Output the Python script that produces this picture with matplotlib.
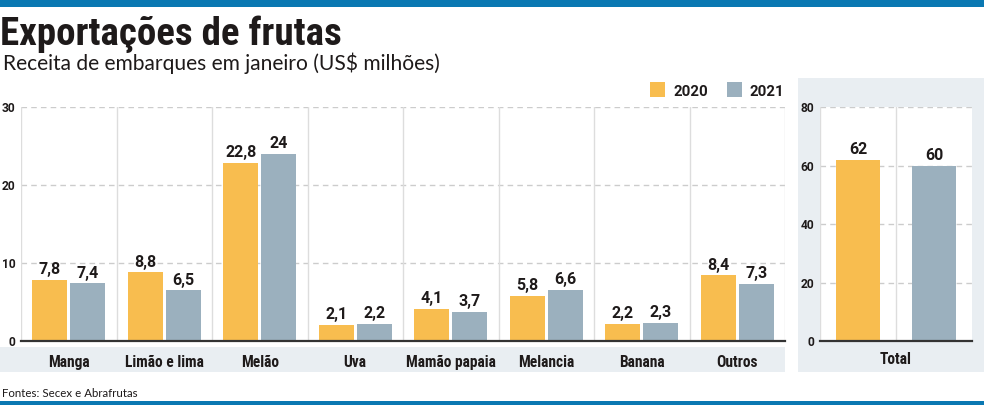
import matplotlib
matplotlib.use("Agg")
import matplotlib.pyplot as plt
from matplotlib import font_manager as fm
from matplotlib.patches import Rectangle
import numpy as np

categories = ["Manga", "Limão e lima", "Melão", "Uva", "Mamão papaia", "Melancia", "Banana", "Outros"]
v2020 = [7.8, 8.8, 22.8, 2.1, 4.1, 5.8, 2.2, 8.4]
v2021 = [7.4, 6.5, 24, 2.2, 3.7, 6.6, 2.3, 7.3]
total_label = "Total"
totals = [62, 60]
series = ["2020", "2021"]
left_ticks = [0, 10, 20, 30]
right_ticks = [0, 20, 40, 60, 80]

title = "Exportações de frutas"
subtitle = "Receita de embarques em janeiro (US$ milhões)"
source = "Fontes: Secex e Abrafrutas"

C20 = "#f8bd4f"
C21 = "#9bb0be"
PANEL = "#e9eef2"
BLUE = "#0a78b2"
DARK = "#1e1a1a"
GRID = "#cccccc"

names = {f.name for f in fm.fontManager.ttflist}
cond = None
for n in ["Roboto Condensed", "Liberation Sans Narrow", "Open Sans Condensed"]:
    if n in names:
        cond = n
        break
if cond is None:
    cond = "Roboto"
BOLD = [cond, "DejaVu Sans"]
NUM = ["Roboto", "DejaVu Sans"]
LIGHT = ["Lato", "DejaVu Sans"]

W, H = 984, 405
fig = plt.figure(figsize=(W / 100, H / 100), dpi=100)


def pt(px):
    return px * 72 / 100


def fx(x):
    return x / W


def fy(y):
    return 1 - y / H


def rect_px(x0, y0, x1, y1, color, z=-10):
    fig.patches.append(Rectangle((fx(x0), fy(y1)), (x1 - x0) / W, (y1 - y0) / H,
                                 transform=fig.transFigure, facecolor=color,
                                 edgecolor="none", zorder=z))


# bands and panels
rect_px(0, 0, W, 7, BLUE)
rect_px(0, 401, W, H, BLUE)
rect_px(0, 347, 785, 372, PANEL)
rect_px(798, 78, W, 372, PANEL)

fig.text(fx(0), fy(45), title, fontsize=pt(39), fontweight="black", family=BOLD,
         color=DARK, va="baseline", ha="left")
fig.text(fx(3), fy(70), subtitle, fontsize=pt(21), fontweight="normal", family=LIGHT,
         color=DARK, va="baseline", ha="left")
fig.text(fx(2), fy(397), source, fontsize=pt(11.5), family=LIGHT, color=DARK,
         va="baseline", ha="left")

# legend
rect_px(650, 82, 665, 97, C20, z=5)
fig.text(fx(673), fy(96), series[0], fontsize=pt(15), fontweight="bold", family=NUM,
         color=DARK, va="baseline")
rect_px(727, 82, 742, 97, C21, z=5)
fig.text(fx(750), fy(96), series[1], fontsize=pt(15), fontweight="bold", family=NUM,
         color=DARK, va="baseline")


def fmt(v):
    s = f"{v:g}"
    return s.replace(".", ",")


def style_axes(ax, ticks, ymax):
    ax.set_ylim(0, ymax)
    ax.set_yticks(ticks)
    ax.set_yticklabels([str(t) for t in ticks], fontsize=pt(12), fontweight="bold",
                       family=NUM, color=DARK)
    ax.tick_params(axis="y", length=0, pad=4)
    ax.tick_params(axis="x", length=0)
    for s in ["top", "right", "left"]:
        ax.spines[s].set_visible(False)
    ax.spines["bottom"].set_color("#333333")
    ax.spines["bottom"].set_linewidth(1.6)
    for t in ticks[1:]:
        ax.axhline(t, color=GRID, lw=1, ls=(0, (4, 3)), zorder=0)
    ax.set_facecolor("white")


# left axes
yb, yt = 341, 107
axL = fig.add_axes([fx(21), fy(yb), (785 - 21) / W, (yb - yt) / H])
n = len(categories)
x = np.arange(n)
bw = 0.365
off = 0.2
axL.set_xlim(-0.5, n - 0.5)
style_axes(axL, left_ticks, 30)
for k in range(n + 1):
    axL.axvline(k - 0.5, color="#dddddd", lw=1, zorder=0)
axL.bar(x - off, v2020, bw, color=C20, zorder=2)
axL.bar(x + off, v2021, bw, color=C21, zorder=2)
for xs, vals in [(x - off, v2020), (x + off, v2021)]:
    for xi, v in zip(xs, vals):
        axL.annotate(fmt(v), (xi, v), xytext=(0, 2), textcoords="offset points",
                     ha="center", va="bottom", fontsize=pt(16), fontweight="bold",
                     family=NUM, color=DARK)
axL.set_xticks(x)
axL.set_xticklabels(categories, fontsize=pt(15.5), fontweight="bold", family=BOLD, color=DARK)
axL.tick_params(axis="x", pad=10)

# right axes
axR = fig.add_axes([fx(820), fy(yb), (972 - 820) / W, (yb - yt) / H])
axR.set_xlim(-0.5, 1.5)
style_axes(axR, right_ticks, 80)
axR.axvline(-0.5, color="#dddddd", lw=1, zorder=0)
axR.axvline(0.5, color="#dddddd", lw=1, zorder=0)
axR.bar([0], [totals[0]], 0.57, color=C20, zorder=2)
axR.bar([1], [totals[1]], 0.57, color=C21, zorder=2)
for xi, v in zip([0, 1], totals):
    axR.annotate(fmt(v), (xi, v), xytext=(0, 2), textcoords="offset points",
                 ha="center", va="bottom", fontsize=pt(16), fontweight="bold",
                 family=NUM, color=DARK)
axR.set_xticks([0.5])
axR.set_xticklabels([total_label], fontsize=pt(15.5), fontweight="bold", family=BOLD, color=DARK)
axR.tick_params(axis="x", pad=8)

fig.savefig("out.png", dpi=100)
